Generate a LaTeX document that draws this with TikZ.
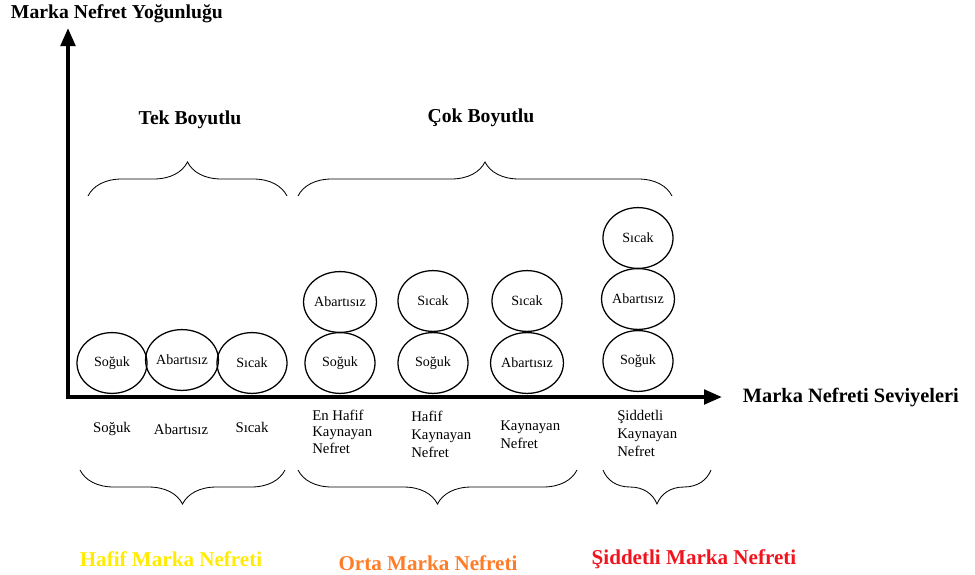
\documentclass[tikz,border=0pt]{standalone}
\usepackage{fontspec}
\setmainfont{Liberation Serif}
\usepackage{tikz}
\usetikzlibrary{shapes.geometric,arrows.meta,decorations.pathreplacing}

\definecolor{hafifc}{RGB}{255,236,0}
\definecolor{ortac}{RGB}{255,125,40}
\definecolor{siddetc}{RGB}{240,20,30}

\tikzset{
  axis/.style={line width=2.8pt,-{Triangle[length=0.45cm,width=0.36cm]}},
  level/.style={ellipse,draw,line width=0.9pt,minimum width=1.75cm,minimum height=1.52cm,inner sep=0pt,font=\fontsize{10}{12}\selectfont},
  title/.style={font=\fontsize{14}{16}\selectfont\bfseries},
  grade/.style={font=\fontsize{15}{17}\selectfont\bfseries},
  under/.style={font=\fontsize{10.5}{12.8}\selectfont,align=left,anchor=north west,inner sep=0pt},
  brc/.style={decorate,decoration={brace,amplitude=0.85cm,aspect=0.5},line width=0.6pt}
}

\begin{document}
\begin{tikzpicture}[x=0.025cm,y=-0.025cm]
      \useasboundingbox (0,0) rectangle (975,574);
      \coordinate (O) at (68,399);
      \coordinate (ytop) at (68,28);
      \coordinate (xend) at (722,397);
      \coordinate (xstart) at (66,397);

      % axes
      \draw[axis] (O) -- (ytop);
      \draw[axis] (xstart) -- (xend);
      \node[title,anchor=west] (ylab) at (6,14) {Marka Nefret Yoğunluğu};
      \node[title,anchor=west,font=\fontsize{14.5}{16}\selectfont\bfseries] (xlab) at (738,398) {Marka Nefreti Seviyeleri};

      % upper braces
      \node[title] (tek) at (190,120) {Tek Boyutlu};
      \node[title] (cok) at (481,118) {Çok Boyutlu};
      \coordinate (tekL) at (88,196);
      \coordinate (tekR) at (287,196);
      \coordinate (cokL) at (298,196);
      \coordinate (cokR) at (672,196);
      \draw[brc] (tekL) -- (tekR);
      \draw[brc] (cokL) -- (cokR);

      % tek boyutlu
      \node[level] (t1) at (112,363) {Soğuk};
      \node[level] (t2) at (182,360) {Abartısız};
      \node[level] (t3) at (252,363) {Sıcak};

      % cok boyutlu
      \node[level] (a1) at (340,363) {Soğuk};
      \node[level] (a2) at (340,302) {Abartısız};
      \node[level] (b1) at (433,363) {Soğuk};
      \node[level] (b2) at (433,301) {Sıcak};
      \node[level] (c1) at (527,363) {Abartısız};
      \node[level] (c2) at (527,301) {Sıcak};
      \node[level] (d1) at (638,361) {Soğuk};
      \node[level] (d2) at (638,299) {Abartısız};
      \node[level] (d3) at (638,238) {Sıcak};

      % under the axis
      \node[under,anchor=center] (u1) at (112,429) {Soğuk};
      \node[under,anchor=center] (u2) at (181,429) {Abartısız};
      \node[under,anchor=center] (u3) at (252,427) {Sıcak};
      \node[under,font=\fontsize{10.5}{11.6}\selectfont] (u4) at (312,410) {En Hafif\\Kaynayan\\Nefret};
      \node[under] (u5) at (411,411) {Hafif\\Kaynayan\\Nefret};
      \node[under] (u6) at (500,421) {Kaynayan\\Nefret};
      \node[under] (u7) at (617,410) {Şiddetli\\Kaynayan\\Nefret};

      % lower braces
      \coordinate (hafL) at (80,470);
      \coordinate (hafR) at (285,470);
      \coordinate (ortL) at (298,470);
      \coordinate (ortR) at (577,470);
      \coordinate (sidL) at (603,470);
      \coordinate (sidR) at (711,470);
      \draw[brc] (hafR) -- (hafL);
      \draw[brc] (ortR) -- (ortL);
      \draw[brc] (sidR) -- (sidL);

      \node[grade,text=hafifc] (hafif) at (171,559) {Hafif Marka Nefreti};
      \node[grade,text=ortac] (orta) at (428,563) {Orta Marka Nefreti};
      \node[grade,text=siddetc] (siddet) at (694,559) {Şiddetli Marka Nefreti};
\end{tikzpicture}
\end{document}
